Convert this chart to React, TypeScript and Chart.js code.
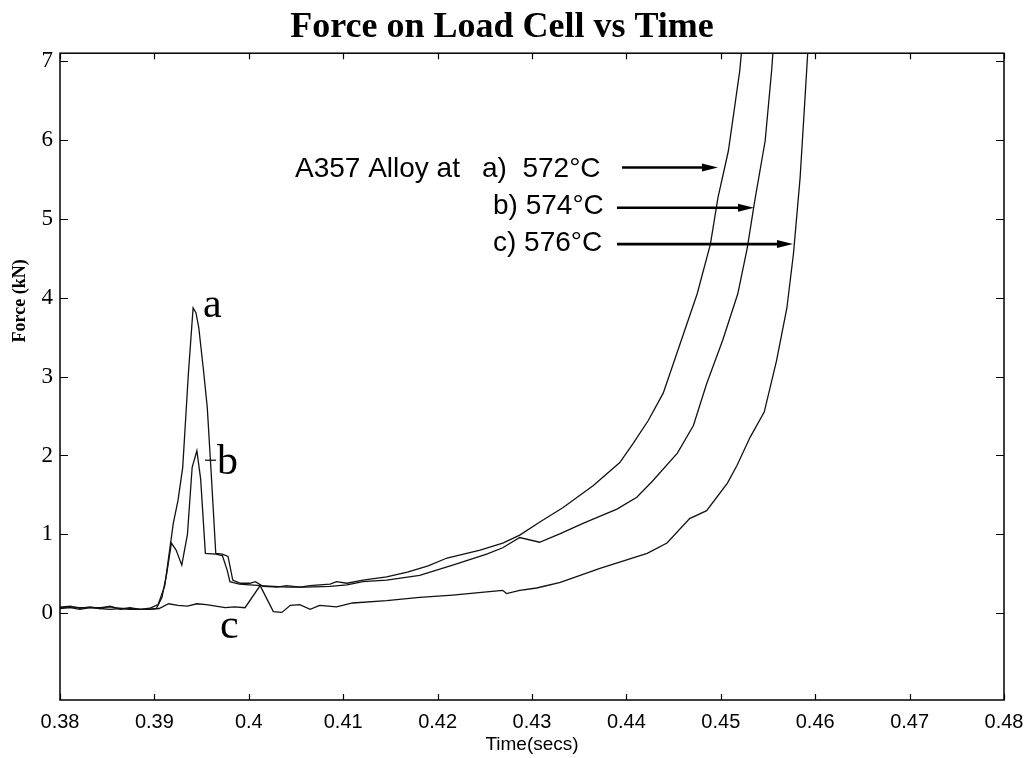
import React, { useEffect, useRef } from "react";
import { Chart, registerables } from "chart.js";

Chart.register(...registerables);

// ---------- data ----------
const xTicks = [0.38, 0.39, 0.4, 0.41, 0.42, 0.43, 0.44, 0.45, 0.46, 0.47, 0.48];
const xTickLabels = ["0.38", "0.39", "0.4", "0.41", "0.42", "0.43", "0.44", "0.45", "0.46", "0.47", "0.48"];
const yTicks = [0, 1, 2, 3, 4, 5, 6, 7];
const yTickLabels = ["0", "1", "2", "3", "4", "5", "6", "7"];

const chartTitle = "Force on Load Cell vs Time";
const xTitle = "Time(secs)";
const yTitle = "Force (kN)";
const alloyLabel = "A357 Alloy at";
const tempLabels = ["a)  572°C", "b) 574°C", "c) 576°C"];
const curveLetters = ["a", "b", "c"];

// series a) 572°C  [time (s), force (kN)]
const seriesA: [number, number][] = [
  [0.38, 0.076], [0.3811, 0.089], [0.3821, 0.063], [0.3832, 0.08], [0.3842, 0.06], [0.3853, 0.09],
  [0.3864, 0.05], [0.3874, 0.07], [0.3885, 0.05], [0.3895, 0.063], [0.3904, 0.11], [0.3911, 0.35],
  [0.392, 1.14], [0.3925, 1.43], [0.393, 1.85], [0.3936, 3.04], [0.3941, 3.87], [0.3944, 3.81],
  [0.3947, 3.62], [0.3952, 3.08], [0.3956, 2.61], [0.396, 1.81], [0.3965, 0.76], [0.3972, 0.75],
  [0.3978, 0.72], [0.3983, 0.42], [0.3991, 0.38], [0.4001, 0.38], [0.4007, 0.4], [0.4015, 0.34],
  [0.403, 0.33], [0.404, 0.35], [0.4054, 0.33], [0.4065, 0.35], [0.4075, 0.36], [0.4086, 0.37],
  [0.4093, 0.4], [0.4104, 0.38], [0.4121, 0.42], [0.4146, 0.46], [0.4168, 0.52], [0.419, 0.6],
  [0.421, 0.7], [0.4245, 0.8], [0.4269, 0.89], [0.4287, 0.99], [0.431, 1.17], [0.4333, 1.34],
  [0.4365, 1.62], [0.4393, 1.91], [0.4407, 2.15], [0.4423, 2.44], [0.4439, 2.79], [0.4457, 3.42],
  [0.4475, 4.05], [0.4489, 4.68], [0.4497, 5.27], [0.4508, 5.86], [0.452, 6.87], [0.4523, 7.25],
];

// series b) 574°C
const seriesB: [number, number][] = [
  [0.38, 0.07], [0.3811, 0.08], [0.3821, 0.07], [0.3832, 0.07], [0.3842, 0.07], [0.3853, 0.08],
  [0.3864, 0.06], [0.3874, 0.06], [0.3885, 0.05], [0.3895, 0.05], [0.3902, 0.06], [0.3908, 0.2],
  [0.3913, 0.5], [0.3918, 0.89], [0.3923, 0.8], [0.3929, 0.61], [0.3935, 1.0], [0.394, 1.85],
  [0.3945, 2.06], [0.3949, 1.7], [0.3954, 0.76], [0.3965, 0.75], [0.3972, 0.73], [0.3977, 0.55],
  [0.398, 0.4], [0.399, 0.37], [0.4001, 0.36], [0.4013, 0.35], [0.404, 0.33], [0.406, 0.33],
  [0.4086, 0.34], [0.4104, 0.36], [0.4121, 0.4], [0.4146, 0.42], [0.4181, 0.48], [0.4216, 0.61],
  [0.4252, 0.75], [0.4269, 0.83], [0.4287, 0.96], [0.4308, 0.9], [0.433, 1.01], [0.4354, 1.14],
  [0.439, 1.32], [0.4411, 1.47], [0.4428, 1.68], [0.4454, 2.03], [0.4471, 2.38], [0.4485, 2.91],
  [0.4502, 3.46], [0.4518, 4.05], [0.4528, 4.63], [0.4536, 5.23], [0.4547, 5.99], [0.4554, 6.9],
  [0.4556, 7.25],
];

// series c) 576°C
const seriesC: [number, number][] = [
  [0.38, 0.06], [0.3811, 0.07], [0.3821, 0.05], [0.3832, 0.07], [0.3842, 0.06], [0.3853, 0.05],
  [0.3864, 0.06], [0.3874, 0.05], [0.3885, 0.05], [0.3895, 0.05], [0.3905, 0.06], [0.3915, 0.12],
  [0.3925, 0.1], [0.3935, 0.09], [0.3945, 0.12], [0.3955, 0.11], [0.3965, 0.09], [0.3975, 0.07],
  [0.3985, 0.08], [0.3996, 0.07], [0.4012, 0.35], [0.4026, 0.02], [0.4035, 0.01], [0.4044, 0.1],
  [0.4054, 0.11], [0.4065, 0.05], [0.4075, 0.1], [0.4093, 0.08], [0.411, 0.13], [0.4146, 0.16],
  [0.4181, 0.2], [0.4216, 0.23], [0.4252, 0.27], [0.4269, 0.29], [0.4273, 0.25], [0.4287, 0.29],
  [0.4305, 0.32], [0.433, 0.39], [0.4372, 0.57], [0.4422, 0.76], [0.4443, 0.89], [0.4467, 1.2],
  [0.4485, 1.3], [0.4507, 1.65], [0.4517, 1.87], [0.4531, 2.23], [0.4546, 2.55], [0.4559, 3.2],
  [0.457, 3.87], [0.4577, 4.56], [0.4584, 5.52], [0.4589, 6.49], [0.4592, 7.09], [0.4595, 7.5],
];

// ---------- annotation placement (data coordinates) ----------
const annot = {
  alloyX: 0.40489,
  tempX: [0.4247, 0.42587, 0.42587],
  tempY: [5.63, 5.16, 4.69],
  arrowFrom: [0.43953, 0.439, 0.439],
  arrowTo: [0.4497, 0.45352, 0.45765],
  arrowY: [5.65, 5.14, 4.68],
  letterX: [0.39515, 0.39663, 0.39695],
  letterY: [3.76, 1.77, -0.32],
  dashFrom: 0.39536,
  dashTo: 0.39653,
  dashY: 1.94,
  yTitleAt: 3.96,
};

const SANS = "'Liberation Sans', Arial, sans-serif";
const SERIF = "'Liberation Serif', 'Times New Roman', serif";

const overlayPlugin = {
  id: "overlay",
  afterDraw(chart: any) {
    const { ctx, chartArea: ca } = chart;
    const x = chart.scales.x;
    const y = chart.scales.y;
    ctx.save();
    // frame
    ctx.strokeStyle = "#000";
    ctx.lineWidth = 1.5;
    ctx.strokeRect(ca.left, ca.top, ca.right - ca.left, ca.bottom - ca.top);
    // inward ticks
    ctx.lineWidth = 1.2;
    ctx.beginPath();
    yTicks.forEach((v) => {
      const py = Math.round(y.getPixelForValue(v)) + 0.5;
      ctx.moveTo(ca.left, py);
      ctx.lineTo(ca.left + 8, py);
      ctx.moveTo(ca.right, py);
      ctx.lineTo(ca.right - 8, py);
    });
    xTicks.forEach((v) => {
      const px = Math.round(x.getPixelForValue(v)) + 0.5;
      ctx.moveTo(px, ca.bottom);
      ctx.lineTo(px, ca.bottom - 6);
      ctx.moveTo(px, ca.top);
      ctx.lineTo(px, ca.top + 6);
    });
    ctx.stroke();

    // annotation text
    ctx.fillStyle = "#000";
    ctx.font = `28px ${SANS}`;
    ctx.textAlign = "left";
    ctx.textBaseline = "middle";
    ctx.fillText(alloyLabel, x.getPixelForValue(annot.alloyX), y.getPixelForValue(annot.tempY[0]));
    tempLabels.forEach((t, i) => {
      ctx.fillText(t, x.getPixelForValue(annot.tempX[i]), y.getPixelForValue(annot.tempY[i]));
    });

    // arrows
    annot.arrowY.forEach((av, i) => {
      const x0 = x.getPixelForValue(annot.arrowFrom[i]);
      const x1 = x.getPixelForValue(annot.arrowTo[i]);
      const py = y.getPixelForValue(av);
      ctx.lineWidth = 2.6;
      ctx.beginPath();
      ctx.moveTo(x0, py);
      ctx.lineTo(x1 - 12, py);
      ctx.stroke();
      ctx.beginPath();
      ctx.moveTo(x1, py);
      ctx.lineTo(x1 - 16, py - 4);
      ctx.lineTo(x1 - 16, py + 4);
      ctx.closePath();
      ctx.fill();
    });

    // curve letters
    ctx.font = `42px ${SERIF}`;
    ctx.textBaseline = "alphabetic";
    curveLetters.forEach((l, i) => {
      ctx.fillText(l, x.getPixelForValue(annot.letterX[i]), y.getPixelForValue(annot.letterY[i]));
    });
    ctx.lineWidth = 1.2;
    ctx.beginPath();
    const dy = y.getPixelForValue(annot.dashY);
    ctx.moveTo(x.getPixelForValue(annot.dashFrom), dy);
    ctx.lineTo(x.getPixelForValue(annot.dashTo), dy);
    ctx.stroke();

    // y title
    ctx.font = `bold 18px ${SERIF}`;
    ctx.textAlign = "center";
    ctx.textBaseline = "middle";
    ctx.translate(ca.left - 40, y.getPixelForValue(annot.yTitleAt));
    ctx.rotate(-Math.PI / 2);
    ctx.fillText(yTitle, 0, 0);
    ctx.restore();
  },
};

const toPoints = (s: [number, number][]) => s.map(([t, f]) => ({ x: t, y: f }));

export default function App() {
  const ref = useRef<HTMLCanvasElement | null>(null);
  useEffect(() => {
    document.body.style.margin = "0";
    if (!ref.current) return;
    const lineStyle = {
      borderColor: "#111",
      borderWidth: 1.3,
      pointRadius: 0,
      tension: 0,
      fill: false,
    };
    const chart = new Chart(ref.current, {
      type: "line",
      data: {
        datasets: [
          { label: tempLabels[0], data: toPoints(seriesA), ...lineStyle },
          { label: tempLabels[1], data: toPoints(seriesB), ...lineStyle },
          { label: tempLabels[2], data: toPoints(seriesC), ...lineStyle },
        ],
      },
      options: {
        animation: false,
        responsive: false,
        maintainAspectRatio: false,
        layout: { padding: { left: 0, right: 23, top: 0, bottom: 0 } },
        plugins: {
          legend: { display: false },
          tooltip: { enabled: false },
          title: {
            display: true,
            text: chartTitle,
            color: "#000",
            font: { family: SERIF, size: 36, weight: "bold" },
            padding: { top: 6, bottom: 4 },
          },
        },
        scales: {
          x: {
            type: "linear",
            min: 0.38,
            max: 0.48,
            grid: { display: false, drawTicks: false },
            border: { display: false },
            afterBuildTicks: (axis: any) => {
              axis.ticks = xTicks.map((v) => ({ value: v }));
            },
            afterFit: (scale: any) => {
              scale.height = 58;
              scale.paddingLeft = 0;
              scale.paddingRight = 0;
            },
            ticks: {
              padding: 10,
              color: "#000",
              maxRotation: 0,
              autoSkip: false,
              font: { family: SANS, size: 20 },
              callback: (_v: any, i: number) => xTickLabels[i],
            },
            title: {
              display: true,
              text: xTitle,
              color: "#000",
              font: { family: SANS, size: 19 },
              padding: { top: 0, bottom: 2 },
            },
          },
          y: {
            type: "linear",
            min: -1.1,
            max: 7.1,
            grid: { display: false, drawTicks: false },
            border: { display: false },
            afterBuildTicks: (axis: any) => {
              axis.ticks = yTicks.map((v) => ({ value: v }));
            },
            afterFit: (scale: any) => {
              scale.width = 60;
            },
            ticks: {
              padding: 7,
              color: "#000",
              autoSkip: false,
              font: { family: SERIF, size: 23 },
              callback: (_v: any, i: number) => yTickLabels[i],
            },
          },
        },
      },
      plugins: [overlayPlugin],
    });
    return () => chart.destroy();
  }, []);
  return (
    <div style={{ width: 1027, height: 758, background: "#fff" }}>
      <canvas ref={ref} width={1027} height={758} style={{ display: "block" }} />
    </div>
  );
}
